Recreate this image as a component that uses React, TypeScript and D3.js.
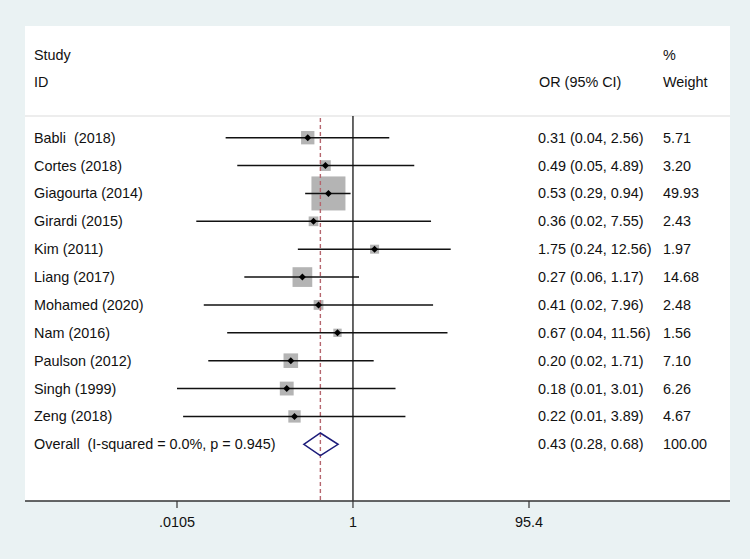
import React from "react";
import * as d3 from "d3";

const studies = [
  "Babli  (2018)",
  "Cortes (2018)",
  "Giagourta (2014)",
  "Girardi (2015)",
  "Kim (2011)",
  "Liang (2017)",
  "Mohamed (2020)",
  "Nam (2016)",
  "Paulson (2012)",
  "Singh (1999)",
  "Zeng (2018)",
];
const orValues = [0.31, 0.49, 0.53, 0.36, 1.75, 0.27, 0.41, 0.67, 0.2, 0.18, 0.22];
const lowerCI = [0.037, 0.05, 0.29, 0.0173, 0.24, 0.06, 0.021, 0.0385, 0.0236, 0.0105, 0.0123];
const upperCI = [2.56, 4.89, 0.94, 7.55, 12.56, 1.17, 7.96, 11.56, 1.71, 3.01, 3.89];
const weights = [5.71, 3.2, 49.93, 2.43, 1.97, 14.68, 2.48, 1.56, 7.1, 6.26, 4.67];

const overallLabel = "Overall  (I-squared = 0.0%, p = 0.945)";
const overallOR = 0.43;
const overallLower = 0.28;
const overallUpper = 0.68;
const overallWeight = 100.0;

const tickValues = [0.0105, 1, 95.4];
const tickLabels = [".0105", "1", "95.4"];

const W = 750;
const H = 559;
const FONT = "'Liberation Sans', Arial, sans-serif";
const FS = 14.4;

export default function App() {
  const x = d3.scaleLog().domain([0.0105, 95.4]).range([177, 529]);
  const rowKeys = [...studies, overallLabel];
  const y = d3.scalePoint<string>().domain(rowKeys).range([137.7, 444.3]);
  const side = d3.scaleSqrt().domain([0, 49.93]).range([0, 31.2]);

  const fmt = d3.format(".2f");
  const ciText = (o: number, l: number, u: number) => `${fmt(o)} (${fmt(l)}, ${fmt(u)})`;

  const panel = { x0: 25, x1: 730, y0: 26, y1: 501 };
  const plotTop = 116;

  const ovY = y(overallLabel) as number;
  const dh = 11.3;

  return (
    <svg
      width={W}
      height={H}
      style={{ position: "absolute", left: 0, top: 0, display: "block" }}
      fontFamily={FONT}
    >
      <rect x={0} y={0} width={W} height={H} fill="#eaf2f3" />
      <rect x={panel.x0} y={panel.y0} width={panel.x1 - panel.x0} height={panel.y1 - panel.y0} fill="#ffffff" />
      <line x1={panel.x0} x2={panel.x1} y1={plotTop} y2={plotTop} stroke="#dcdcdc" strokeWidth={1.2} />

      {/* headers */}
      <g fontSize={FS} fill="#111">
        <text x={34} y={55} dy="0.35em">Study</text>
        <text x={34} y={82} dy="0.35em">ID</text>
        <text x={539} y={82} dy="0.35em">OR (95% CI)</text>
        <text x={663} y={55} dy="0.35em">%</text>
        <text x={663} y={82} dy="0.35em">Weight</text>
      </g>

      {/* reference line at 1 */}
      <line x1={x(1)} x2={x(1)} y1={plotTop} y2={panel.y1} stroke="#000" strokeWidth={1.2} />

      {/* squares */}
      {studies.map((s, i) => {
        const sz = 2.8 + side(weights[i]);
        const cx = x(orValues[i]);
        const cy = y(s) as number;
        return <rect key={"sq" + i} x={cx - sz / 2} y={cy - sz / 2} width={sz} height={sz} fill="#b4b4b4" />;
      })}

      {/* overall dashed line */}
      <line
        x1={x(overallOR)}
        x2={x(overallOR)}
        y1={plotTop + 2}
        y2={panel.y1}
        stroke="#b5666e"
        strokeWidth={1.4}
        strokeDasharray="4,3"
      />

      {/* CI lines and points */}
      {studies.map((s, i) => {
        const cy = y(s) as number;
        const cx = x(orValues[i]);
        const r = 3.5;
        return (
          <g key={"ci" + i}>
            <line x1={x(lowerCI[i])} x2={x(upperCI[i])} y1={cy} y2={cy} stroke="#111" strokeWidth={1.5} />
            <path d={`M${cx - r},${cy}L${cx},${cy - r}L${cx + r},${cy}L${cx},${cy + r}Z`} fill="#000" />
          </g>
        );
      })}

      {/* overall diamond */}
      <path
        d={`M${x(overallLower)},${ovY}L${x(overallOR)},${ovY - dh}L${x(overallUpper)},${ovY}L${x(overallOR)},${ovY + dh}Z`}
        fill="none"
        stroke="#1c1c7a"
        strokeWidth={1.5}
      />

      {/* row labels */}
      <g fontSize={FS} fill="#111">
        {studies.map((s, i) => (
          <g key={"t" + i}>
            <text x={34} y={y(s) as number} dy="0.35em" style={{ whiteSpace: "pre" }}>{s}</text>
            <text x={538} y={y(s) as number} dy="0.35em">{ciText(orValues[i], lowerCI[i], upperCI[i])}</text>
            <text x={663} y={y(s) as number} dy="0.35em">{fmt(weights[i])}</text>
          </g>
        ))}
        <text x={34} y={ovY} dy="0.35em" style={{ whiteSpace: "pre" }}>{overallLabel}</text>
        <text x={538} y={ovY} dy="0.35em">{ciText(overallOR, overallLower, overallUpper)}</text>
        <text x={663} y={ovY} dy="0.35em">{fmt(overallWeight)}</text>
      </g>

      {/* x axis */}
      <line x1={panel.x0} x2={panel.x1} y1={panel.y1} y2={panel.y1} stroke="#333" strokeWidth={1.3} />
      {tickValues.map((t, i) => (
        <g key={"tk" + i}>
          <line x1={x(t)} x2={x(t)} y1={panel.y1} y2={panel.y1 + 7} stroke="#333" strokeWidth={1.2} />
          <text x={x(t)} y={522} dy="0.35em" textAnchor="middle" fontSize={FS} fill="#111">
            {tickLabels[i]}
          </text>
        </g>
      ))}
    </svg>
  );
}
